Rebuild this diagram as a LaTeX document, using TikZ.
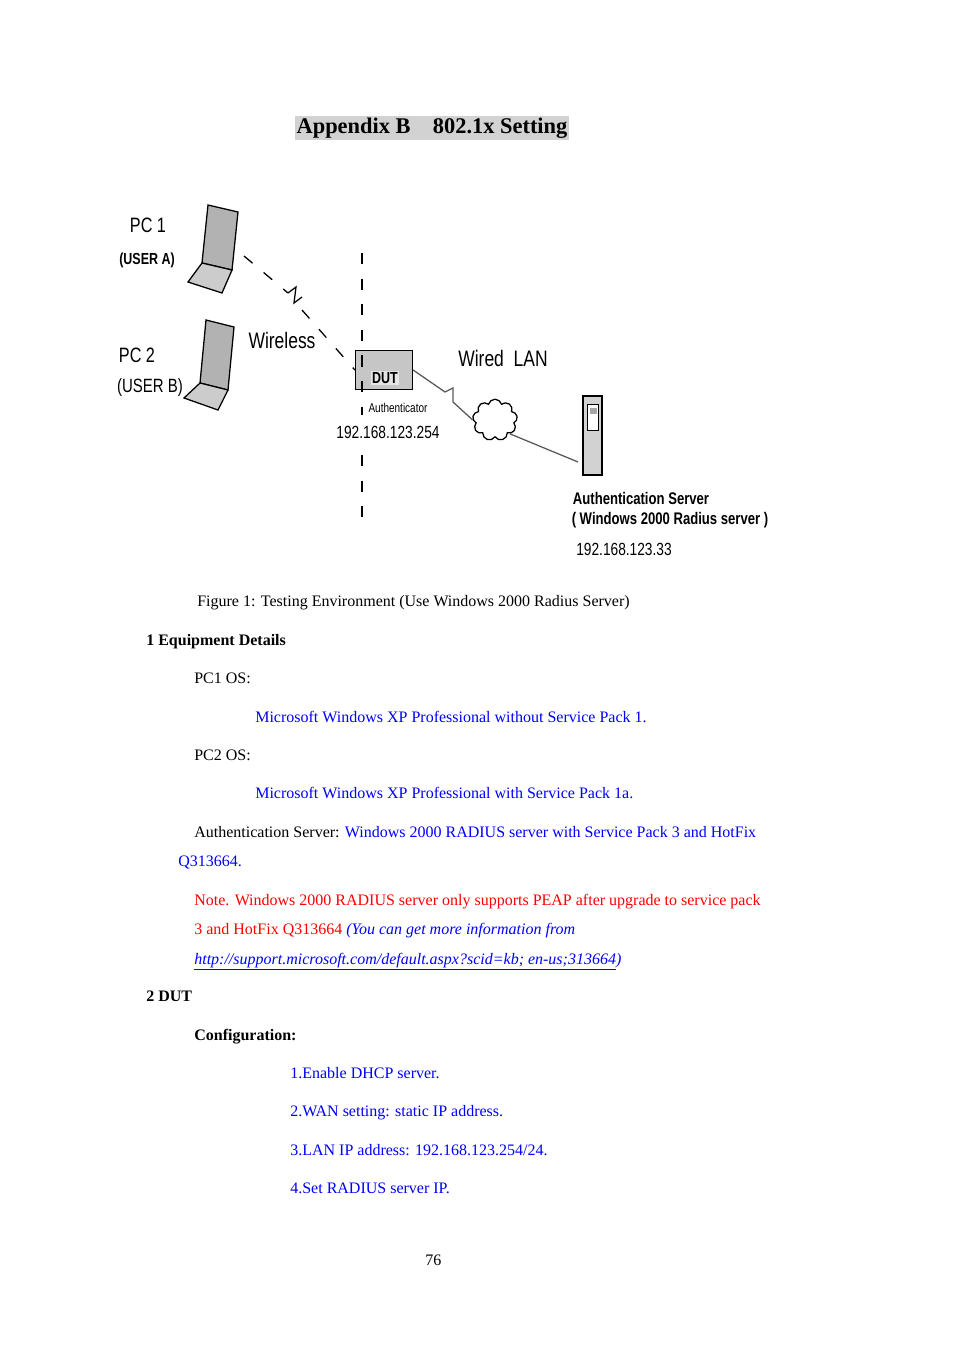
\documentclass[tikz,border=0pt]{standalone}
\usepackage{fontspec}
\setmainfont{Liberation Serif}
\newfontfamily\diafont[FakeStretch=0.78]{Liberation Sans}
\usetikzlibrary{positioning, decorations.pathmorphing, shapes.symbols}

\definecolor{linkblue}{RGB}{0,0,255}
\definecolor{notered}{RGB}{255,0,0}

\tikzset{
  body/.style = {anchor = base west, inner sep = 0pt, font = \fontsize{10}{12}\selectfont},
  blue text/.style = {body, text = linkblue},
  dia/.style = {inner sep = 1pt, font = \diafont\fontsize{13}{14}\selectfont},
  laptop/.style = {fill = gray!60, draw = black, thick},
  radio/.style = {dashed, dash pattern = on 7pt off 9pt, thick}
}

\begin{document}
\begin{tikzpicture}[x = 0.625pt, y = -0.625pt]
  \useasboundingbox (0,0) rectangle (954,1351);

  % title
  \node[fill = gray!35, inner sep = 1pt, font = \bfseries\fontsize{14}{16}\selectfont]
    (title) at (432,128) {Appendix B\quad 802.1x Setting};

  % clients
  \node[dia] (pc1) at (148,225) {PC 1};
  \node[dia, font = \diafont\bfseries\fontsize{10}{12}\selectfont] (usera) at (147,260) {(USER A)};
  \node[dia] (pc2) at (137,355) {PC 2};
  \node[dia, font = \diafont\fontsize{12}{13}\selectfont] (userb) at (150,388) {(USER B)};
  \filldraw[laptop] (208,205) -- (238,212) -- (232,270) -- (202,263) -- cycle;
  \filldraw[laptop, fill = gray!40] (202,263) -- (232,270) -- (222,293) -- (188,282) -- cycle;
  \filldraw[laptop] (206,320) -- (234,327) -- (228,390) -- (200,383) -- cycle;
  \filldraw[laptop, fill = gray!40] (200,383) -- (228,390) -- (218,410) -- (184,398) -- cycle;
  \coordinate (lap1) at (244,256);

  % access point
  \node[draw, fill = gray!45, minimum width = 36pt, minimum height = 24pt, inner sep = 0pt]
    (dut) at (384,370) {};
  \node[font = \diafont\bfseries\fontsize{10}{12}\selectfont, fill = gray!20, inner sep = 1pt]
    (dutlabel) at (385,378) {DUT};
  \node[dia, font = \diafont\fontsize{8}{10}\selectfont] (auth) at (398,408) {Authenticator};
  \node[dia, font = \diafont\fontsize{11}{13}\selectfont] (dutip) at (388,432) {192.168.123.254};
  \draw[radio] (362,253) -- (362,415);
  \draw[radio] (362,455) -- (362,520);

  % wireless link
  \node[dia, font = \diafont\fontsize{14}{16}\selectfont] (wireless) at (282,340) {Wireless};
  \coordinate (zz1) at (288,293);
  \coordinate (zz2) at (302,310);
  \draw[radio] (lap1) -- (zz1);
  \draw[thick] (zz1) -- ++(8,-6) -- ++(-2,16) -- ++(8,-6);
  \draw[radio] (zz2) -- (dut.west);

  % wired side
  \node[dia, font = \diafont\fontsize{14}{16}\selectfont] (wired) at (503,358) {Wired\ \ LAN};
  \node[cloud, draw, thick, cloud puffs = 9, minimum width = 28pt, minimum height = 26pt]
    (lan) at (495,420) {};
  \draw[thick, gray!70!black] (dut.east) -- (445,392) -- ++(8,-4) -- ++(0,14) -- (lan.west);
  \filldraw[fill = gray!35, thick] (583,396) rectangle (602,475);
  \filldraw[fill = white] (587,404) rectangle (598,430);
  \fill[gray!70] (590,408) rectangle (597,414);
  \coordinate (srv) at (578,462);
  \draw[thick, gray!70!black] (lan.south east) -- (srv);
  \node[dia, font = \diafont\bfseries\fontsize{10.5}{13}\selectfont] (srvname) at (641,498) {Authentication Server};
  \node[dia, font = \diafont\bfseries\fontsize{10.5}{13}\selectfont] (srvos) at (670,520) {( Windows 2000 Radius server )};
  \node[dia, font = \diafont\fontsize{11}{13}\selectfont] (srvip) at (624,549) {192.168.123.33};

  % text
  \node[body] (caption) at (197,606) {Figure 1: Testing Environment (Use Windows 2000 Radius Server)};
  \node[body, font = \bfseries\fontsize{10}{12}\selectfont] (sec1) at (146,645) {1 Equipment Details};
  \node[body] (pc1os) at (194,683) {PC1 OS:};
  \node[blue text] (pc1ver) at (255,722) {Microsoft Windows XP Professional without Service Pack 1.};
  \node[body] (pc2os) at (194,760) {PC2 OS:};
  \node[blue text] (pc2ver) at (255,798) {Microsoft Windows XP Professional with Service Pack 1a.};
  \node[body] (srvline) at (194,837)
    {Authentication Server: \textcolor{linkblue}{Windows 2000 RADIUS server with Service Pack 3 and HotFix}};
  \node[blue text] (hotfix) at (178,866) {Q313664.};
  \node[body, text = notered] (note1) at (194,905)
    {Note. Windows 2000 RADIUS server only supports PEAP after upgrade to service pack};
  \node[body, text = notered] (note2) at (194,934)
    {3 and HotFix Q313664 \textcolor{linkblue}{\itshape (You can get more information from}};
  \node[blue text, font = \itshape\fontsize{10}{12}\selectfont] (url) at (194,964)
    {\underline{http://support.microsoft.com/default.aspx?scid=kb; en-us;313664}\rlap{)}};
  \node[body, font = \bfseries\fontsize{10}{12}\selectfont] (sec2) at (146,1001) {2 DUT};
  \node[body, font = \bfseries\fontsize{10}{12}\selectfont] (config) at (194,1040) {Configuration:};
  \node[blue text] (step1) at (290,1078) {1.Enable DHCP server.};
  \node[blue text] (step2) at (290,1116) {2.WAN setting: static IP address.};
  \node[blue text] (step3) at (290,1155) {3.LAN IP address: 192.168.123.254/24.};
  \node[blue text] (step4) at (290,1193) {4.Set RADIUS server IP.};
  \node[body] (page) at (425,1265) {76};
\end{tikzpicture}
\end{document}
